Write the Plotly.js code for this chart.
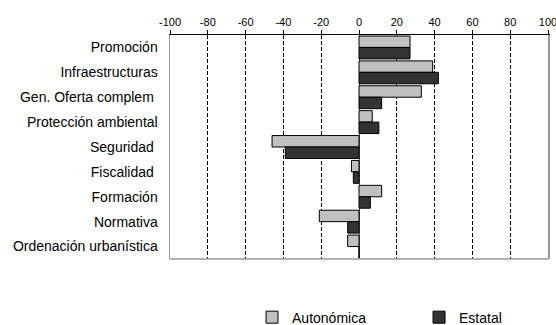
<!DOCTYPE html>
<html><head><meta charset="utf-8">
<script src="https://cdn.plot.ly/plotly-3.0.1.min.js"></script>
<style>body{margin:0;background:#fff}</style>
</head><body>
<div id="chart" style="width:556px;height:325px"></div>
<script>
const categories = ["Promoción","Infraestructuras","Gen. Oferta complem ","Protección ambiental","Seguridad ","Fiscalidad ","Formación","Normativa","Ordenación urbanística"];
const autonomica = [27, 39, 33, 7, -46, -4, 12, -21, -6];
const estatal = [27, 42, 12, 10.5, -39, -3, 6, -6, 0];
const tickVals = [-100,-80,-60,-40,-20,0,20,40,60,80,100];

const traces = [
  {type:'bar', orientation:'h', name:'Autonómica', y:categories, x:autonomica,
   marker:{color:'#c0c0c0', line:{color:'#000', width:1}}},
  {type:'bar', orientation:'h', name:'Estatal', y:categories, x:estatal,
   marker:{color:'#333333', line:{color:'#000', width:1}}}
];
const layout = {
  width:556, height:325,
  margin:{l:170, r:8, t:35, b:66, autoexpand:false},
  paper_bgcolor:'#fff', plot_bgcolor:'#fff',
  font:{family:'Liberation Sans, Arial, sans-serif', size:14, color:'#000'},
  barmode:'group', bargap:0.08, bargroupgap:0,
  xaxis:{range:[-100,100], side:'top', tickvals:tickVals, ticktext:tickVals.map(String),
    tickfont:{size:11}, ticks:'outside', ticklen:4, tickcolor:'#000', ticklabeloverflow:'allow',
    showgrid:true, gridcolor:'#000', griddash:'4px,2px', gridwidth:1,
    zeroline:true, zerolinecolor:'#555', zerolinewidth:1,
    showline:true, linecolor:'#000', linewidth:1, mirror:false, fixedrange:true, automargin:false},
  yaxis:{autorange:'reversed', ticks:'', showline:true, linecolor:'#999', linewidth:1.5, mirror:true,
    tickfont:{size:14}, ticklabelstandoff:8, fixedrange:true, automargin:false},
  shapes:[{type:'line', xref:'paper', yref:'paper', x0:0, x1:1, y0:0, y1:0,
    line:{color:'#999', width:1.5}, layer:'above'}],
  showlegend:true,
  legend:{orientation:'h', x:0.217, xanchor:'left', y:-0.19, yanchor:'top',
    entrywidth:122, entrywidthmode:'pixels', font:{size:14}, traceorder:'normal',
    itemwidth:30}
};
Plotly.newPlot('chart', traces, layout, {displayModeBar:false, staticPlot:true});
</script>
</body></html>
